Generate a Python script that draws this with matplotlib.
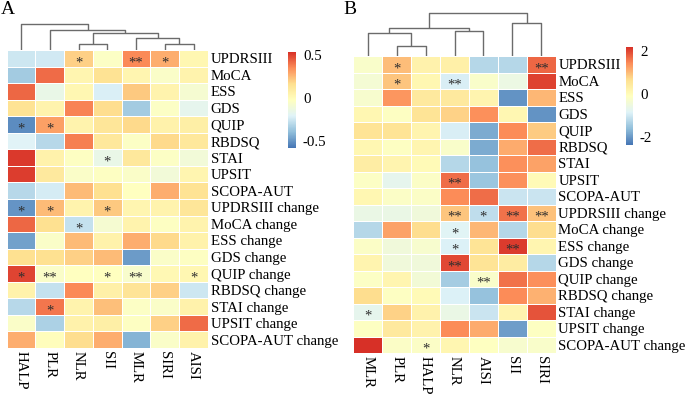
import numpy as np
import matplotlib
matplotlib.use("Agg")
import matplotlib.pyplot as plt
from matplotlib.colors import LinearSegmentedColormap, Normalize
from matplotlib.colorbar import ColorbarBase

# строки общие для обеих панелей
rows = ["UPDRSIII", "MoCA", "ESS", "GDS", "QUIP", "RBDSQ", "STAI", "UPSIT",
        "SCOPA-AUT", "UPDRSIII change", "MoCA change", "ESS change",
        "GDS change", "QUIP change", "RBDSQ change", "STAI change",
        "UPSIT change", "SCOPA-AUT change"]

# Панель A
a_cols = ["HALP", "PLR", "NLR", "SII", "MLR", "SIRI", "AISI"]
a_vals = [
    [-0.25, -0.24, 0.20, -0.04, 0.36, 0.28, 0.03],
    [-0.35, 0.42, 0.04, 0.15, 0.04, -0.05, 0.05],
    [0.43, -0.15, 0.03, -0.22, 0.22, 0.05, -0.08],
    [0.15, 0.05, 0.37, 0.17, -0.35, -0.04, -0.17],
    [-0.52, 0.31, 0.05, 0.13, 0.18, 0.06, 0.08],
    [-0.20, -0.30, 0.38, 0.12, -0.04, 0.18, 0.12],
    [0.52, 0.06, -0.03, -0.15, 0.12, -0.04, -0.10],
    [0.51, 0.11, -0.05, -0.03, -0.05, -0.10, 0.04],
    [-0.30, -0.23, 0.25, 0.16, -0.02, 0.28, 0.15],
    [-0.50, 0.25, 0.05, 0.22, 0.04, 0.05, 0.13],
    [0.43, 0.16, -0.27, -0.08, 0.05, -0.03, 0.05],
    [-0.47, -0.05, 0.25, 0.06, 0.28, 0.18, 0.06],
    [0.16, 0.16, 0.20, 0.25, -0.48, -0.05, -0.03],
    [0.50, -0.05, -0.02, -0.02, -0.06, 0.02, 0.03],
    [0.06, -0.27, 0.36, 0.07, 0.14, 0.20, -0.25],
    [-0.30, 0.40, 0.05, 0.24, -0.04, -0.05, 0.06],
    [-0.05, -0.33, 0.06, 0.08, -0.03, 0.20, 0.42],
    [0.28, -0.01, 0.17, 0.28, -0.42, -0.05, 0.06],
]
a_stars = [
    ["", "", "*", "", "**", "*", ""],
    ["", "", "", "", "", "", ""],
    ["", "", "", "", "", "", ""],
    ["", "", "", "", "", "", ""],
    ["*", "*", "", "", "", "", ""],
    ["", "", "", "", "", "", ""],
    ["", "", "", "*", "", "", ""],
    ["", "", "", "", "", "", ""],
    ["", "", "", "", "", "", ""],
    ["*", "*", "", "*", "", "", ""],
    ["", "", "*", "", "", "", ""],
    ["", "", "", "", "", "", ""],
    ["", "", "", "", "", "", ""],
    ["*", "**", "", "*", "**", "", "*"],
    ["", "", "", "", "", "", ""],
    ["", "*", "", "", "", "", ""],
    ["", "", "", "", "", "", ""],
    ["", "", "", "", "", "", ""],
]
# кластеризация столбцов: (левый, правый, высота)
a_merges = [(2, 3, 6), (5, 6, 6), (4, 8, 11.7), (7, 9, 16.7), (1, 10, 20), (0, 11, 25.7)]
a_ticks = [0.5, 0, -0.5]
a_range = (-0.58, 0.54)

# Панель B
b_cols = ["MLR", "PLR", "HALP", "NLR", "AISI", "SII", "SIRI"]
b_vals = [
    [-0.23, 1.00, 0.23, 0.28, -1.25, -1.25, 1.75],
    [-0.35, 0.92, 0.12, -0.90, -0.23, -0.55, 2.05],
    [-0.28, 1.35, 0.45, 0.45, 0.18, -2.05, 1.05],
    [0.12, -0.12, 0.58, 0.80, 1.40, 0.12, -2.05],
    [0.58, 0.58, 0.18, -0.90, -1.80, 1.45, 0.88],
    [0.12, -0.12, 0.16, -0.23, -1.80, 1.15, 1.70],
    [0.35, 0.18, 0.05, -1.25, -1.55, 1.40, 1.25],
    [-0.16, -0.70, -0.18, 1.70, -1.50, 1.40, 0.05],
    [0.12, -0.18, -0.18, 1.45, 1.70, -1.05, -1.05],
    [-0.58, -0.58, -0.45, 0.92, -1.15, 1.65, 0.97],
    [-1.25, 1.25, 0.70, -0.80, 1.05, -1.25, 0.70],
    [-0.18, -0.45, -0.28, -0.88, 0.58, 2.10, 0.16],
    [0.18, -0.45, -0.45, 2.00, 0.58, 0.40, -1.25],
    [-0.16, 0.16, -0.40, -1.40, -0.23, 1.65, 1.40],
    [0.70, -0.12, 0.05, -0.88, -1.55, 1.45, 1.10],
    [-0.70, 0.80, 0.23, -0.58, -1.05, 0.18, 1.90],
    [-0.12, 0.45, 0.23, 1.45, 1.15, -1.95, -0.12],
    [2.20, -0.18, -0.18, 0.14, -0.10, -0.28, -0.23],
]
b_stars = [
    ["", "*", "", "", "", "", "**"],
    ["", "*", "", "**", "", "", ""],
    ["", "", "", "", "", "", ""],
    ["", "", "", "", "", "", ""],
    ["", "", "", "", "", "", ""],
    ["", "", "", "", "", "", ""],
    ["", "", "", "", "", "", ""],
    ["", "", "", "**", "", "", ""],
    ["", "", "", "", "", "", ""],
    ["", "", "", "**", "*", "**", "**"],
    ["", "", "", "*", "", "", ""],
    ["", "", "", "*", "", "**", ""],
    ["", "", "", "**", "", "", ""],
    ["", "", "", "", "**", "", ""],
    ["", "", "", "", "", "", ""],
    ["*", "", "", "", "", "", ""],
    ["", "", "", "", "", "", ""],
    ["", "", "*", "", "", "", ""],
]
b_merges = [(1, 2, 10), (0, 7, 22.7), (3, 4, 25), (8, 9, 27.7), (5, 6, 32.7), (10, 11, 43.3)]
b_ticks = [2, 0, -2]
b_range = (-2.36, 2.2)

# палитра как в pheatmap
cmap = LinearSegmentedColormap.from_list(
    "ph", ["#4575b4", "#91bfdb", "#e0f3f8", "#ffffbf", "#fee090", "#fc8d59", "#d73027"])

plt.rcParams['font.family'] = ['Liberation Serif', 'DejaVu Serif']

W, H = 685, 395
fig = plt.figure(figsize=(W / 100, H / 100), dpi=100)
FS = 10.7


def box(x0, y0, x1, y1):
    # пиксели -> доли фигуры
    return [x0 / W, 1 - y1 / H, (x1 - x0) / W, (y1 - y0) / H]


def dendro(ax, merges, n):
    xs = [i + 0.5 for i in range(n)]
    hs = [0.0] * n
    for a, b, h in merges:
        ax.plot([xs[a], xs[a], xs[b], xs[b]], [hs[a], h, h, hs[b]],
                color="#6b6b6b", lw=1.0, solid_capstyle="butt")
        xs.append((xs[a] + xs[b]) / 2)
        hs.append(h)
    ax.set_xlim(0, n)
    ax.set_axis_off()


def panel(hm_box, dd_box, dd_top, cb_box, cols, vals, stars, merges, ticks, rng):
    ax = fig.add_axes(box(*hm_box))
    data = np.array(vals)
    norm = Normalize(rng[0], rng[1])
    ax.pcolormesh(data, cmap=cmap, norm=norm, edgecolors="white", linewidth=0.7)
    ax.set_xlim(0, len(cols))
    ax.set_ylim(len(rows), 0)
    for i in range(len(rows)):
        for j in range(len(cols)):
            if stars[i][j]:
                ax.text(j + 0.5, i + 1.0, stars[i][j], ha="center", va="baseline",
                        fontsize=10.5, color="#2e2e2e")
    ax.yaxis.tick_right()
    ax.set_yticks(np.arange(len(rows)) + 0.5)
    ax.set_yticklabels(rows, fontsize=FS)
    ax.set_xticks(np.arange(len(cols)) + 0.5)
    ax.set_xticklabels(cols, fontsize=FS, rotation=270)
    ax.tick_params(length=0, pad=2)
    for s in ax.spines.values():
        s.set_visible(False)

    dax = fig.add_axes(box(*dd_box))
    dendro(dax, merges, len(cols))
    dax.set_ylim(0, dd_top)

    cax = fig.add_axes(box(*cb_box))
    cb = ColorbarBase(cax, cmap=cmap, norm=norm)
    cb.outline.set_visible(False)
    cb.set_ticks(ticks)
    cb.set_ticklabels([f"{t:g}" for t in ticks])
    cax.tick_params(length=0, labelsize=FS, pad=5)


panel((6.7, 50, 208, 348), (6.7, 20, 208, 50), 30, (288, 52, 296, 148),
      a_cols, a_vals, a_stars, a_merges, a_ticks, a_range)
panel((353.3, 56, 555.7, 353), (353.3, 10, 555.7, 56), 46, (626, 47, 633, 145),
      b_cols, b_vals, b_stars, b_merges, b_ticks, b_range)

fig.text(7.5 / W, 1 - 9 / H, "A", fontsize=14, ha="center", va="center")
fig.text(350 / W, 1 - 9 / H, "B", fontsize=14, ha="center", va="center")

fig.savefig("out.png", dpi=100)
